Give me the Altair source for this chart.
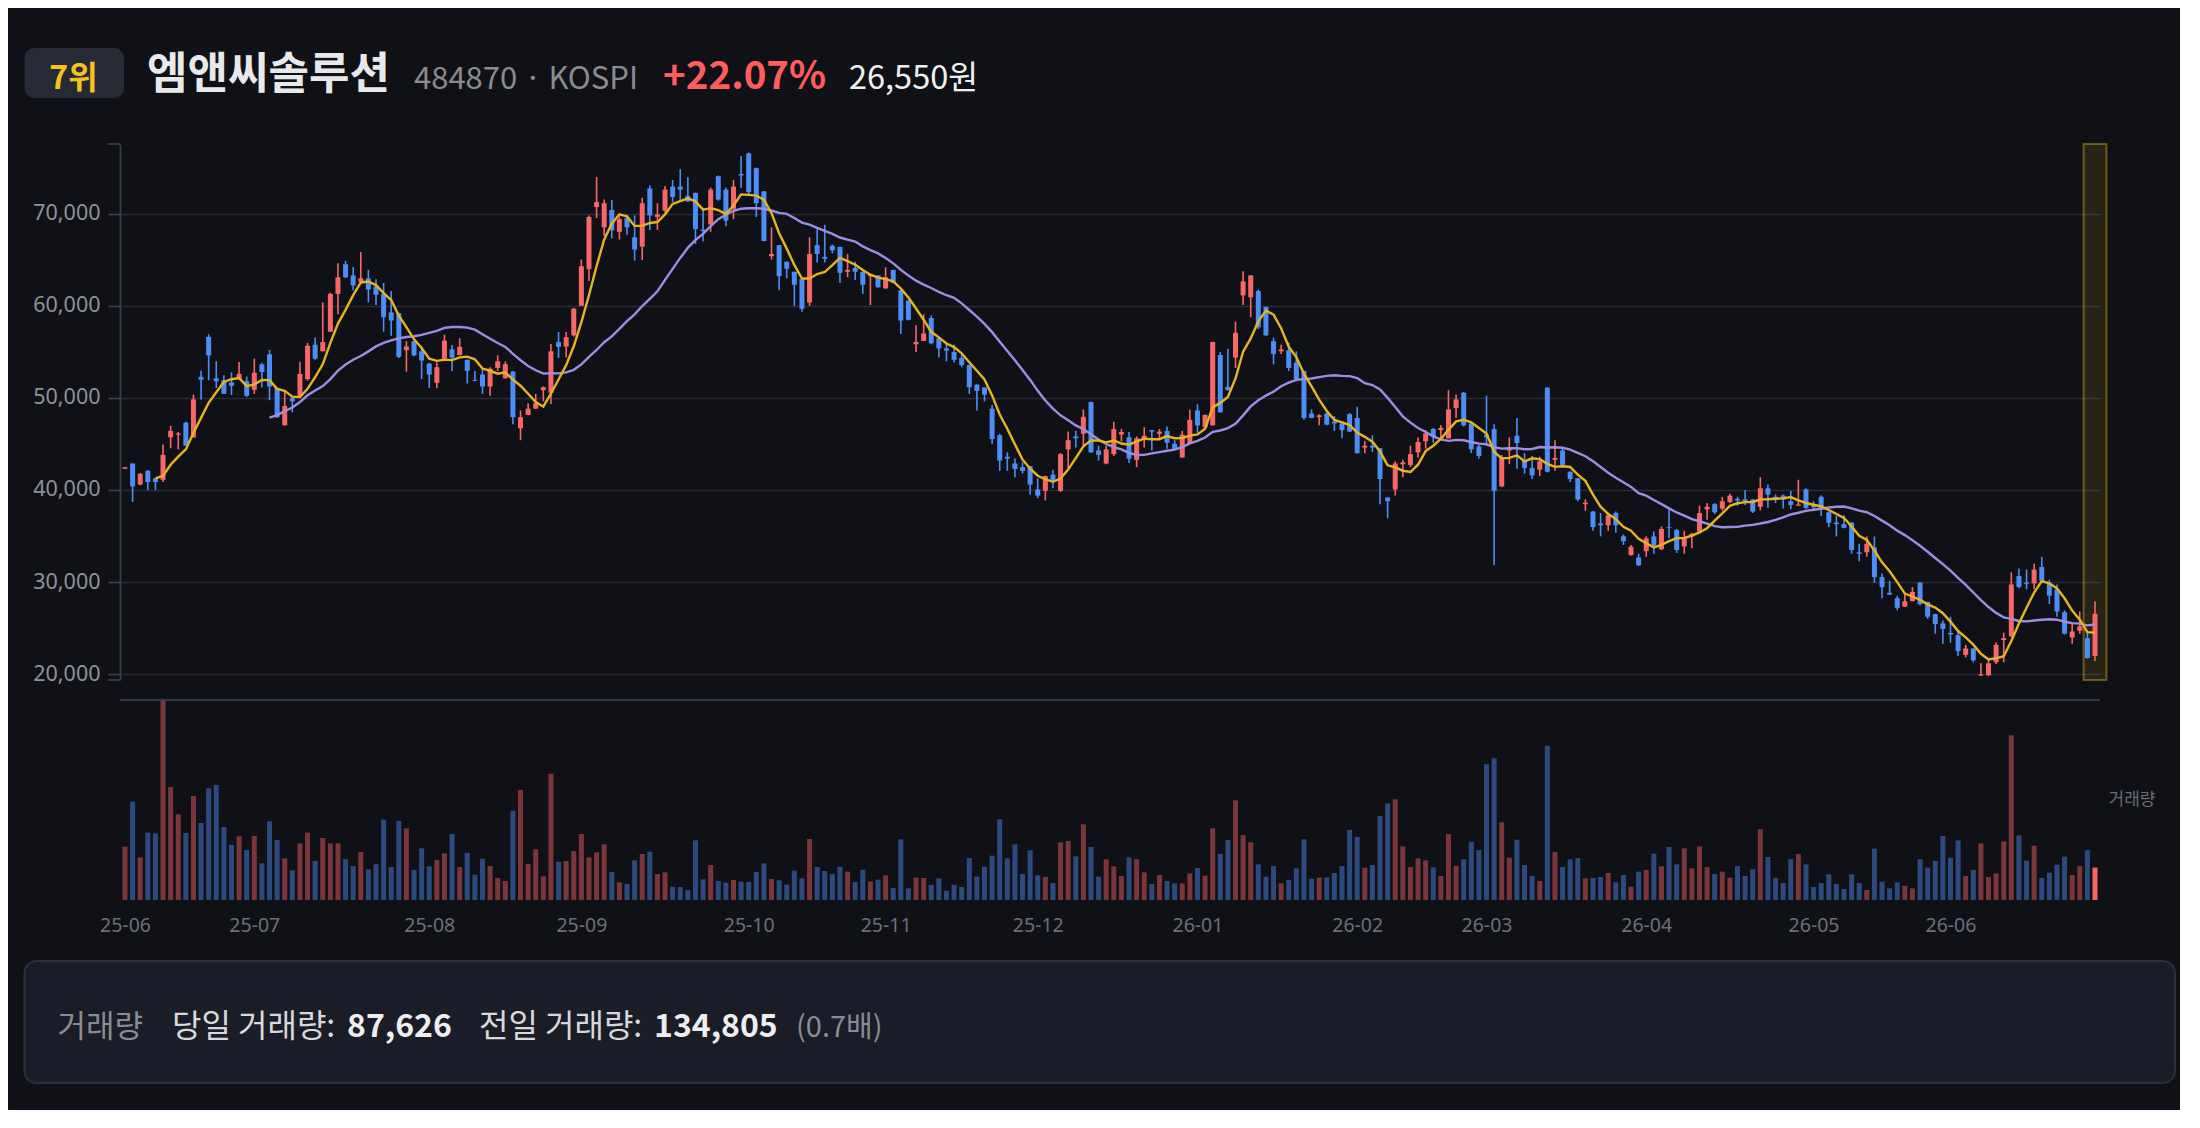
import altair as alt
import pandas as pd

# ---------------- data ----------------
opens = [
    42300, 42870, 40580, 42070, 41260, 41100, 45725, 46000, 47300, 45700,
    52280, 56620, 52120, 51915, 51670, 52040, 51800, 50870, 53640, 54730,
    51070, 47010, 49945, 50230, 52040, 55770, 55050, 57180, 61280, 64500,
    63290, 62600, 62970, 62080, 61280, 59270, 59190, 55170, 56140, 55050,
    53720, 51630, 54250, 55250, 54650, 54120, 51950, 52520, 51230, 53240,
    52120, 52840, 46690, 48140, 48820, 50830, 50550, 56050, 55570, 56780,
    59990, 63970, 70720, 68510, 70400, 68030, 69520, 67430, 66420, 72730,
    69640, 70320, 72930, 72930, 71930, 72250, 68270, 68830, 74060, 72610,
    70520, 74300, 76550, 74940, 72410, 65380, 66580, 64780, 63690, 62880,
    60350, 66580, 65300, 66500, 66380, 63690, 64090, 63690, 63210, 63290,
    61880, 63890, 61680, 60550, 55810, 56180, 58670, 56460, 55370, 54970,
    54330, 53560, 51430, 51110, 48820, 45930, 43600, 42870, 42470, 42590,
    40060, 39900, 41660, 39900, 44400, 45810, 46090, 49540, 44280, 42870,
    43880, 46010, 45720, 43270, 45520, 46490, 46090, 46410, 45000, 43520,
    45000, 48620, 46810, 47010, 54650, 51200, 54370, 61120, 60920, 61600,
    59870, 56140, 55050, 55170, 53840, 52920, 48300, 47900, 48300, 47410,
    47210, 48220, 47810, 44600, 44800, 44520, 39180, 40060, 42790, 42710,
    44080, 45280, 46610, 46490, 45600, 48900, 50550, 47210, 44720, 46000,
    46610, 40380, 44280, 45890, 43190, 42390, 42190, 51110, 43270, 44280,
    41980, 41260, 38450, 37650, 36360, 36160, 37490, 34960, 32920, 32660,
    33350, 34950, 33550, 35960, 35640, 33870, 34950, 35480, 37890, 38450,
    37970, 38690, 39020, 38980, 38970, 38170, 40180, 39250, 39380, 38770,
    38290, 40060, 38290, 39250, 37570, 36440, 36280, 36440, 33230, 33230,
    33750, 30530, 28830, 28240, 27320, 27920, 29930, 27840, 26510, 25510,
    24470, 24230, 22090, 22780, 19840, 19880, 21290, 23700, 24100, 30650,
    29930, 29850, 31620, 29930, 29210, 26720, 23980, 24710, 23900, 21970,
]
highs = [
    42450, 42870, 41850, 42150, 41300, 44920, 46970, 46300, 47400, 50350,
    52960, 56900, 53960, 52440, 52760, 53880, 52320, 54250, 53800, 55210,
    51070, 50830, 50100, 53920, 55970, 56540, 60350, 61400, 64620, 64860,
    64210, 65820, 63890, 62880, 62480, 61600, 59250, 56140, 56200, 55570,
    53800, 53840, 56860, 55730, 56460, 54150, 52920, 53160, 53320, 54610,
    53960, 52900, 48620, 49420, 50430, 51230, 55850, 57140, 57140, 59750,
    65010, 69800, 73980, 71530, 71490, 69720, 69880, 69800, 71730, 73050,
    71130, 73010, 73650, 74820, 73940, 72300, 70320, 72810, 74140, 72850,
    73650, 76270, 76630, 75000, 72450, 68510, 66600, 64800, 63700, 62900,
    67430, 68510, 68790, 66660, 66400, 65620, 64780, 63700, 63450, 63300,
    64170, 63900, 61700, 60600, 57870, 59070, 58950, 56500, 55850, 55770,
    54650, 53600, 51450, 51150, 49220, 46090, 44080, 43400, 42990, 42600,
    41260, 41550, 42190, 44000, 46330, 46410, 48740, 49600, 44800, 44800,
    47410, 46610, 46290, 45810, 46810, 46500, 46610, 46890, 45400, 46410,
    48700, 49300, 48200, 56100, 54970, 55330, 58270, 63730, 63300, 61760,
    59900, 56540, 55770, 55970, 55050, 52950, 48740, 48220, 48420, 48020,
    47410, 48340, 49030, 45280, 45930, 44550, 39200, 43110, 43270, 44800,
    45690, 46490, 46730, 47010, 50830, 50350, 50630, 47250, 44880, 50230,
    47130, 43800, 45690, 47810, 43990, 43680, 43600, 51150, 45400, 44600,
    42000, 41300, 38970, 37700, 37490, 37490, 37650, 35160, 34030, 33070,
    34960, 35480, 36040, 37890, 35760, 35560, 35300, 38290, 38570, 38570,
    39250, 39580, 39250, 39980, 39000, 41380, 40580, 39500, 39500, 39900,
    41100, 40180, 38770, 39380, 37650, 37170, 37250, 36500, 34150, 34950,
    34950, 30930, 30130, 28520, 28800, 29450, 29950, 27850, 26550, 25830,
    26230, 24790, 23180, 22800, 21170, 21570, 23420, 24500, 31050, 31460,
    31340, 32020, 32740, 30250, 29730, 26920, 25430, 26800, 24510, 27920,
]
lows = [
    42300, 38690, 40500, 39980, 39980, 40860, 44520, 44400, 44800, 45700,
    49830, 51900, 51070, 50430, 50300, 52000, 50100, 50430, 51110, 49740,
    47820, 47010, 48420, 50100, 51875, 54120, 55050, 57180, 59070, 63000,
    61680, 62500, 60350, 60070, 57180, 56740, 54330, 52840, 54500, 52040,
    51070, 51030, 54250, 52920, 54600, 51550, 51800, 50430, 50230, 52920,
    52100, 47130, 45400, 48100, 48800, 49620, 49340, 54330, 54370, 56660,
    59990, 62680, 69520, 67590, 67310, 67190, 67710, 64900, 64980, 68230,
    68230, 70120, 71250, 71410, 71250, 66700, 66980, 68030, 71410, 68630,
    69400, 72810, 71930, 69640, 67000, 65020, 61680, 62970, 59990, 59350,
    59990, 64700, 64700, 65700, 62480, 63090, 62800, 61280, 60070, 61950,
    61850, 62450, 56940, 58400, 54970, 56150, 55810, 54370, 53960, 53840,
    53320, 50430, 48620, 49620, 45000, 42070, 42070, 41380, 41780, 39500,
    39100, 38860, 40180, 39780, 42390, 44600, 44860, 44000, 43190, 42800,
    43680, 45280, 42910, 42470, 44600, 44280, 45600, 44480, 44350, 43500,
    45000, 46210, 46800, 47000, 48400, 50800, 53240, 60070, 58750, 57460,
    56750, 53640, 54770, 52920, 51830, 47610, 47800, 47010, 47010, 46410,
    45600, 46300, 43950, 43990, 44120, 38450, 36930, 39380, 41380, 42470,
    43520, 44480, 45120, 45600, 45600, 47810, 46890, 43990, 43400, 44800,
    31820, 40300, 42790, 42310, 41780, 41180, 41500, 41900, 42070, 42590,
    40860, 38770, 37730, 35560, 34960, 35560, 35360, 34030, 32840, 31740,
    32740, 33070, 33470, 34750, 33150, 33070, 33670, 35240, 36760, 37370,
    37770, 38570, 38290, 38370, 37490, 37770, 38050, 38570, 37970, 37890,
    38250, 37890, 37770, 37170, 35960, 34950, 35850, 33070, 32260, 32740,
    29930, 28240, 28600, 26920, 27300, 27900, 27440, 25990, 24390, 23300,
    23420, 21970, 21810, 21290, 19800, 19800, 21090, 21290, 24050, 29330,
    29210, 29210, 29930, 27600, 26230, 24310, 23300, 24390, 21690, 21410,
]
closes = [
    42450, 40380, 41745, 40860, 40860, 43800, 46410, 46130, 44800, 49830,
    51955, 54600, 51800, 50430, 51310, 52600, 50230, 52720, 52800, 51230,
    47900, 49100, 49620, 52600, 55650, 54250, 56050, 61280, 63090, 63090,
    62200, 62970, 61760, 61200, 58750, 58390, 54450, 55570, 54610, 54050,
    52520, 53320, 56220, 54370, 55530, 52920, 51850, 51230, 53160, 53960,
    53640, 47900, 47900, 48820, 49420, 51150, 55050, 55530, 56580, 59670,
    64290, 69640, 71250, 71130, 68190, 69400, 68510, 66100, 71130, 69800,
    69920, 72610, 71810, 72610, 71330, 68310, 68110, 72610, 71530, 69240,
    72930, 74140, 72330, 71130, 67030, 65620, 63210, 64010, 62280, 59670,
    65620, 65620, 65100, 66020, 63570, 63890, 63690, 62280, 63410, 62000,
    63090, 62480, 58390, 58470, 56060, 56980, 55930, 55370, 55130, 54130,
    53560, 51150, 50750, 50350, 45520, 43190, 43400, 42270, 42070, 40580,
    39380, 41500, 40860, 43880, 45400, 45600, 47940, 44080, 43800, 44400,
    46610, 46290, 43400, 45600, 45880, 46330, 46330, 45120, 44400, 46010,
    47610, 47010, 48140, 56060, 48420, 50830, 57060, 62640, 63290, 57660,
    56780, 54770, 55250, 53240, 52040, 47820, 47820, 48100, 47090, 47210,
    46490, 46330, 43990, 44800, 44600, 41180, 38780, 42870, 42990, 43880,
    45200, 46130, 45810, 46730, 48740, 49820, 47010, 44400, 43680, 45700,
    39900, 43520, 44600, 45080, 42390, 41580, 43110, 41980, 43470, 42710,
    41180, 38970, 38610, 35960, 36160, 37250, 36160, 34430, 33840, 31820,
    34750, 33950, 35760, 35880, 33470, 34830, 35240, 37490, 38170, 37570,
    38770, 39380, 38860, 38780, 37650, 40180, 39500, 39100, 38970, 38370,
    38420, 38050, 38130, 38050, 36440, 36280, 35880, 33470, 33070, 34150,
    30530, 29450, 28640, 27200, 27920, 28920, 27600, 26230, 25430, 24910,
    24310, 22500, 22780, 21490, 19960, 21170, 23180, 23900, 29730, 29450,
    29810, 31340, 30130, 28520, 26800, 24390, 24630, 25190, 21750, 26550,
]
volumes = [
    144000, 265500, 115200, 181800, 180000, 540000, 305100, 231300, 180900, 280800,
    207900, 301500, 310500, 197100, 148500, 171900, 135000, 172800, 99000, 212400,
    162000, 112500, 80100, 153000, 181800, 105300, 167400, 153000, 153000, 110700,
    91800, 129600, 82800, 96300, 216900, 89100, 213300, 193500, 81000, 139500,
    90900, 108000, 126000, 178200, 89100, 126900, 68400, 111600, 91800, 59400,
    51300, 241200, 297000, 97200, 136800, 63900, 341100, 103500, 105300, 132300,
    178200, 115200, 128700, 150300, 75600, 47700, 43200, 107100, 124200, 130500,
    70200, 74700, 36000, 35100, 27000, 161100, 55800, 94500, 51300, 46800,
    54000, 49500, 48600, 75600, 99000, 56700, 53100, 41400, 79200, 58500,
    164700, 89100, 78300, 70200, 90000, 76500, 48600, 81900, 50400, 54900,
    66600, 32400, 163800, 31500, 60300, 59400, 40500, 58500, 25200, 40500,
    35100, 113400, 63000, 90000, 119700, 217800, 112500, 150300, 70200, 134100,
    66600, 62100, 45900, 155700, 159300, 117900, 204300, 143100, 63000, 109800,
    90900, 64800, 115200, 109800, 74700, 43200, 67500, 51300, 45000, 45000,
    72000, 86400, 65700, 193500, 124200, 162000, 269100, 175500, 155700, 96300,
    63000, 91800, 45000, 54000, 85500, 163800, 57600, 60300, 61200, 72900,
    91800, 189000, 170100, 87300, 94500, 226800, 261000, 271800, 144900, 89100,
    112500, 107100, 88200, 64800, 178200, 92700, 109800, 157500, 135000, 366300,
    382500, 209700, 114300, 162900, 94500, 64800, 51300, 416700, 129600, 89100,
    109800, 113400, 58500, 59400, 62100, 72900, 47700, 67500, 36000, 76500,
    81000, 125100, 90900, 143100, 96300, 139500, 85500, 144900, 89100, 70200,
    76500, 60300, 91800, 64800, 82800, 190800, 116100, 59400, 45900, 110700,
    124200, 96300, 35100, 45900, 69300, 43200, 29700, 69300, 45900, 27000,
    138600, 49500, 31500, 47700, 38700, 31500, 109800, 87300, 105300, 172800,
    114300, 161100, 64800, 81000, 153000, 62100, 72000, 158400, 444600, 174600,
    106200, 146700, 59400, 73800, 95400, 117000, 67500, 91800, 134805, 87626,
]
month_pos = [0, 17, 40, 60, 82, 100, 120, 141, 162, 179, 200, 222, 240]
month_lbl = ["25-06", "25-07", "25-08", "25-09", "25-10", "25-11", "25-12",
             "26-01", "26-02", "26-03", "26-04", "26-05", "26-06"]
price_ticks = [20000, 30000, 40000, 50000, 60000, 70000]
price_domain = [19360, 77560]

# ---------------- styling ----------------
FONT = "Noto Sans CJK KR"
AXFONT = "Noto Sans"
BG = "#101117"
RED = "#f86767"
BLUE = "#4d8df6"
RED_DIM = "#7a363a"
BLUE_DIM = "#2d4a7e"
YEL = "#e6b422"
PUR = "#9d8ee2"

W, H = 1980, 756
PH = 536           # price panel height
VT, VB = 556, 756  # volume panel top / bottom

N = len(closes)
df = pd.DataFrame({"i": list(range(N)), "open": opens, "high": highs,
                   "low": lows, "close": closes, "vol": volumes})
df["dir"] = ["up" if c >= o else "down" for o, c in zip(opens, closes)]
df["vdir"] = df["dir"]
df.loc[N - 1, "vdir"] = "last"
one = pd.DataFrame({"k": [0]})

label_expr = "".join(f"datum.value == {p} ? '{l}' : " for p, l in zip(month_pos, month_lbl)) + "''"

xs = alt.Scale(domain=[0, N - 1], nice=False, zero=False)
xaxis = alt.Axis(values=month_pos, labelExpr=label_expr, title=None, grid=False,
                 domain=False, ticks=False, tickSize=0, labelPadding=16,
                 labelFontSize=19.5, labelColor="#6c6f77", labelFont=AXFONT,
                 labelFlush=False, labelOverlap=False)
ys = alt.Scale(domain=price_domain, range=[PH, 0], nice=False, zero=False)
yaxis = alt.Axis(values=price_ticks, labelExpr="format(datum.value, ',')", title=None,
                 grid=True, gridColor="#2a2c35", gridWidth=1.5, domainColor="#3b3e47",
                 domainWidth=1.8, tickColor="#3b3e47", tickWidth=1.8, tickSize=12,
                 labelPadding=8, labelFontSize=21.5, labelColor="#8e9199", labelFont=AXFONT)

X = alt.X("i:Q", scale=xs, axis=xaxis)
cscale = alt.Scale(domain=["up", "down"], range=[RED, BLUE])
C = alt.Color("dir:N", scale=cscale, legend=None)

base = alt.Chart(df)

hl = base.transform_filter(f"datum.i == {N - 1}").transform_calculate(
    xa="datum.i - 1.5", xb="datum.i + 1.5"
).mark_rect(fill="#f5c518", fillOpacity=0.10, stroke="#f5c518",
            strokeOpacity=0.38, strokeWidth=2).encode(
    x=alt.X("xa:Q", scale=xs, axis=xaxis), x2="xb:Q",
    y=alt.value(0), y2=alt.value(PH))

wick = base.mark_rule(strokeWidth=1.6).encode(
    x=X, y=alt.Y("low:Q", scale=ys, axis=yaxis), y2="high:Q", color=C)
body = base.mark_bar(width=5).encode(
    x=X, y=alt.Y("open:Q", scale=ys, axis=yaxis), y2="close:Q", color=C)

ma20 = base.transform_window(
    ma20="mean(close)", n20="count()", frame=[-19, 0], sort=[alt.SortField("i")]
).transform_filter("datum.n20 >= 20").mark_line(color=PUR, strokeWidth=2.4).encode(
    x=X, y=alt.Y("ma20:Q", scale=ys, axis=yaxis))
ma5 = base.transform_window(
    ma5="mean(close)", n5="count()", frame=[-4, 0], sort=[alt.SortField("i")]
).transform_filter("datum.n5 >= 5").mark_line(color=YEL, strokeWidth=2.4).encode(
    x=X, y=alt.Y("ma5:Q", scale=ys, axis=yaxis))

corner_top = alt.Chart(one).mark_rule(color="#3b3e47", strokeWidth=1.8).encode(
    x=alt.value(-12), x2=alt.value(0), y=alt.value(0))
corner_bot = alt.Chart(one).mark_rule(color="#3b3e47", strokeWidth=1.8).encode(
    x=alt.value(-12), x2=alt.value(0), y=alt.value(PH))

price = alt.layer(hl, wick, body, ma20, ma5, corner_top, corner_bot)

vbars = base.mark_bar(width=5).encode(
    x=X,
    y=alt.Y("vol:Q", scale=alt.Scale(domain=[0, max(volumes)], range=[VB, VT], nice=False),
            axis=None),
    color=alt.Color("vdir:N", scale=alt.Scale(domain=["up", "down", "last"],
                                              range=[RED_DIM, BLUE_DIM, RED]), legend=None))
sep = alt.Chart(one).mark_rule(color="#36374e", strokeWidth=2).encode(
    x=alt.value(0), x2=alt.value(W), y=alt.value(VT))
vol = alt.layer(vbars, sep)


def txt(s, x, y, size, color, weight="normal", align="left", baseline="alphabetic"):
    return alt.Chart(one).mark_text(text=s, fontSize=size, color=color, fontWeight=weight,
                                    align=align, baseline=baseline, font=FONT).encode(
        x=alt.value(x), y=alt.value(y))


badge = alt.Chart(one).mark_rect(cornerRadius=10, color="#262a35").encode(
    x=alt.value(-95.5), x2=alt.value(4), y=alt.value(-96), y2=alt.value(-46))
box = alt.Chart(one).mark_rect(cornerRadius=12, fill="#1a1c27", stroke="#2b2e3b",
                               strokeWidth=2).encode(
    x=alt.value(-95.5), x2=alt.value(2055), y=alt.value(817), y2=alt.value(939))

deco = alt.layer(
    badge,
    txt("7위", -46.5, -55, 32, "#f6c21c", "bold", align="center"),
    txt("엠앤씨솔루션", 27, -55, 44, "#e9e9ec", "bold"),
    txt("484870 · KOSPI", 294, -55, 31, "#8b8b90"),
    txt("+22.07%", 543, -55, 38.5, "#ff5d5d", "bold"),
    txt("26,550원", 729, -55, 32.5, "#f0f0f2"),
    txt("거래량", 2012, 656, 17, "#6b6e76", align="center", baseline="middle"),
    box,
    txt("거래량", -62.5, 893, 31, "#8a8c93"),
    txt("당일 거래량:", 52, 893, 32, "#d8d9dd"),
    txt("87,626", 227, 893, 32, "#eeeef0", "bold"),
    txt("전일 거래량:", 359, 893, 32, "#d8d9dd"),
    txt("134,805", 534, 893, 32, "#eeeef0", "bold"),
    txt("(0.7배)", 676, 893, 29, "#8a8c93"),
)

chart = alt.layer(price, vol, deco).resolve_scale(
    y="independent", color="independent"
).properties(
    width=W, height=H,
    autosize=alt.AutoSizeParams(type="none"),
    padding={"left": 112, "top": 136, "right": 80, "bottom": 210},
    background=BG,
).configure(font=FONT).configure_view(strokeWidth=0)

chart.save("out.html", embed_options={"renderer": "svg", "actions": False})
